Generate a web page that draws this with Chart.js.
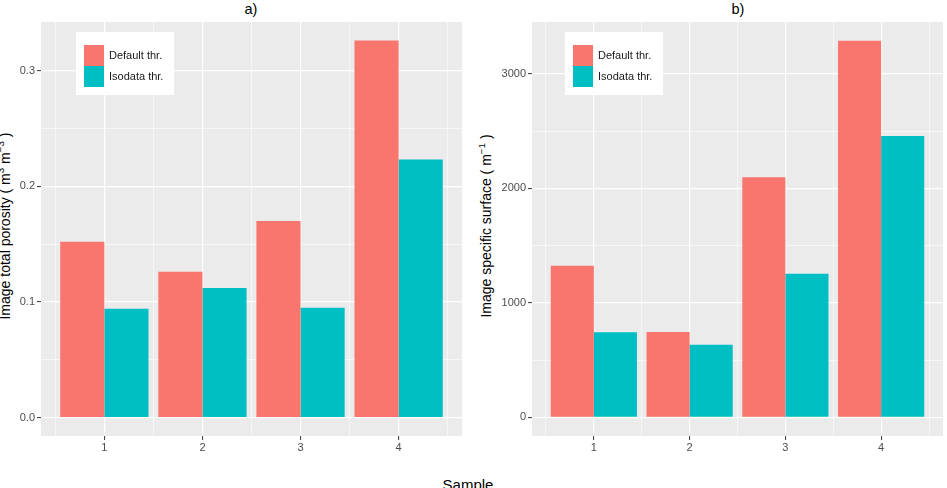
<!DOCTYPE html>
<html>
<head>
<meta charset="utf-8">
<script src="https://cdn.jsdelivr.net/npm/chart.js@4.4.0/dist/chart.umd.min.js"></script>
<style>
body{margin:0;background:#fff;width:947px;height:488px;overflow:hidden;position:relative;font-family:"Liberation Sans",Arial,sans-serif;}
canvas{position:absolute;top:0;}
#cA{left:0;}
#cB{left:470px;}
.t{position:absolute;white-space:nowrap;color:#000;line-height:1;}
.ttl{font-size:14.5px;top:2px;transform:translateX(-50%);}
.yt{font-size:14px;transform:translate(-50%,-50%) rotate(-90deg);}
.yt sup{font-size:70%;line-height:0;}
</style>
</head>
<body>
<div class="t ttl" style="left:251px;">a)</div>
<div class="t ttl" style="left:738px;">b)</div>
<div class="t yt" style="left:5px;top:226px;">Image total porosity ( m<sup>3</sup> m<sup>&minus;3</sup> )</div>
<div class="t yt" style="left:486px;top:226px;">Image specific surface ( m<sup>&minus;1</sup> )</div>
<div class="t" style="left:468px;top:477px;font-size:15px;transform:translateX(-50%);">Sample</div>
<canvas id="cA" width="470" height="488"></canvas>
<canvas id="cB" width="477" height="488"></canvas>
<script>
(function(){
    'use strict';

    var samples = [1, 2, 3, 4];
    var seriesNames = ['Default thr.', 'Isodata thr.'];
    var seriesColors = ['#F8766D', '#00BFC4'];

    var porosityDefault = [0.152, 0.126, 0.170, 0.326];
    var porosityIsodata = [0.094, 0.112, 0.095, 0.223];
    var porosityTicks = [0, 0.1, 0.2, 0.3];
    var porosityTickLabels = ['0.0', '0.1', '0.2', '0.3'];

    var surfaceDefault = [1325, 746, 2098, 3290];
    var surfaceIsodata = [743, 635, 1255, 2459];
    var surfaceTicks = [0, 1000, 2000, 3000];
    var surfaceTickLabels = ['0', '1000', '2000', '3000'];

    var FONT = '"Liberation Sans", Arial, sans-serif';

    // grey panel + legend box drawn inside the plot, ggplot style
    var ggPanel = {
        id: 'ggPanel',
        beforeDraw: function(chart){
            var a = chart.chartArea, ctx = chart.ctx;
            ctx.save();
            ctx.fillStyle = '#EBEBEB';
            ctx.fillRect(a.left, a.top, a.right - a.left, a.bottom - a.top);
            ctx.restore();
        },
        afterDatasetsDraw: function(chart, args, opts){
            var a = chart.chartArea, ctx = chart.ctx;
            var x0 = a.left + opts.dx, y0 = a.top + opts.dy;
            ctx.save();
            ctx.fillStyle = '#FFFFFF';
            ctx.fillRect(x0, y0, 98, 63);
            ctx.font = '11px ' + FONT;
            ctx.textBaseline = 'middle';
            chart.data.datasets.forEach(function(ds, i){
                var ky = y0 + 13 + i * 21;
                ctx.fillStyle = ds.backgroundColor;
                ctx.fillRect(x0 + 8, ky, 20, 21);
                ctx.fillStyle = '#1a1a1a';
                ctx.fillText(ds.label, x0 + 33, ky + 11);
            });
            ctx.restore();
        }
    };

    function isOn(v, list){
        for (var i = 0; i < list.length; i++) {
            if (Math.abs(v - list[i]) < 1e-9) return i;
        }
        return -1;
    }

    function major(c, list){
        return !!(c && c.tick) && isOn(c.tick.value, list) >= 0;
    }

    // major ticks from the list plus the minor ones halfway between them
    function gridTicks(list){
        return function(s){
            var half = (list[1] - list[0]) / 2, vals = [];
            list.forEach(function(v){
                [v - half, v, v + half].forEach(function(w){
                    if (w >= s.min && w <= s.max && isOn(w, vals) < 0) vals.push(w);
                });
            });
            vals.sort(function(p, q){ return p - q; });
            s.ticks = vals.map(function(v){ return {value: v}; });
        };
    }

    function xy(values){
        return samples.map(function(s, i){ return {x: s, y: values[i]}; });
    }

    function panel(id, seriesA, seriesB, yMin, yMax, ticks, tickLabels, yAxisWidth, rightPad, legendDx){
        var ctx = document.getElementById(id).getContext('2d');
        return new Chart(ctx, {
            type: 'bar',
            data: {
                datasets: [
                    // ruler.min is the half-step between grid ticks, so 1.8 gives a 0.9 dodge width
                    {label: seriesNames[0], data: xy(seriesA), backgroundColor: seriesColors[0], borderWidth: 0,
                     categoryPercentage: 1.8, barPercentage: 1.0},
                    {label: seriesNames[1], data: xy(seriesB), backgroundColor: seriesColors[1], borderWidth: 0,
                     categoryPercentage: 1.8, barPercentage: 1.0}
                ]
            },
            options: {
                responsive: false,
                animation: false,
                layout: {padding: {left: 0, right: rightPad, top: 22, bottom: 22}},
                plugins: {
                    legend: {display: false},
                    tooltip: {enabled: false},
                    ggPanel: {dx: legendDx, dy: 10}
                },
                scales: {
                    x: {
                        type: 'linear',
                        min: 0.354, max: 4.646,
                        offset: false,
                        afterBuildTicks: gridTicks(samples),
                        afterFit: function(s){ s.height = 30; },
                        border: {display: false},
                        grid: {
                            offset: false,
                            color: '#FFFFFF',
                            lineWidth: function(c){ return major(c, samples) ? 1.2 : 0.6; },
                            tickColor: function(c){ return major(c, samples) ? '#333333' : 'rgba(0,0,0,0)'; },
                            tickWidth: 1,
                            tickLength: 4
                        },
                        ticks: {
                            autoSkip: false,
                            maxRotation: 0,
                            padding: 1,
                            color: '#4D4D4D',
                            font: {family: FONT, size: 11},
                            callback: function(v){ var k = isOn(v, samples); return k >= 0 ? String(samples[k]) : ''; }
                        }
                    },
                    y: {
                        min: yMin, max: yMax,
                        afterBuildTicks: gridTicks(ticks),
                        afterFit: function(s){ s.width = yAxisWidth; },
                        border: {display: false},
                        grid: {
                            color: '#FFFFFF',
                            lineWidth: function(c){ return major(c, ticks) ? 1.2 : 0.6; },
                            tickColor: function(c){ return major(c, ticks) ? '#333333' : 'rgba(0,0,0,0)'; },
                            tickWidth: 1,
                            tickLength: 4
                        },
                        ticks: {
                            autoSkip: false,
                            padding: 2,
                            color: '#4D4D4D',
                            font: {family: FONT, size: 11},
                            callback: function(v){ var k = isOn(v, ticks); return k >= 0 ? tickLabels[k] : ''; }
                        }
                    }
                }
            },
            plugins: [ggPanel]
        });
    }

    panel('cA', porosityDefault, porosityIsodata, -0.016, 0.342, porosityTicks, porosityTickLabels, 41, 8, 35);
    panel('cB', surfaceDefault, surfaceIsodata, -163, 3454, surfaceTicks, surfaceTickLabels, 62, 4, 33);

}());
</script>
</body>
</html>
